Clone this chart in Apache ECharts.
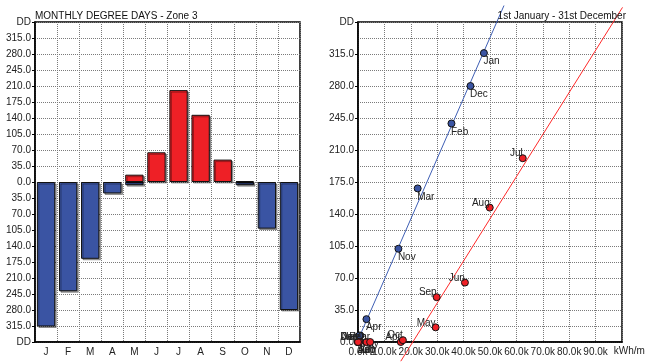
<!DOCTYPE html>
<html><head><meta charset="utf-8">
<script src="https://cdn.jsdelivr.net/npm/echarts@6/dist/echarts.min.js"></script>
<style>html,body{margin:0;padding:0;background:#fff}#c{width:645px;height:363px}</style>
</head><body><div id="c"></div>
<script>
// ---- data ----
const monthLetters = ['J','F','M','A','M','J','J','A','S','O','N','D'];
const monthNames = ['Jan','Feb','Mar','Apr','May','Jun','Jul','Aug','Sep','Oct','Nov','Dec'];
const heatingDD = [316, 239, 168, 25, 7, 0, 0, 0, 0, 7, 102, 280];
const coolingDD = [0, 0, 0, 0, 16, 65, 201, 147, 49, 2, 0, 0];
const heatingKWh = [47700, 35400, 22600, 3200, 900, 0, 0, 0, 0, 500, 15300, 42600];
const coolingKWh = [0, 3200, 4600, 16200, 29400, 40500, 62400, 49900, 29800, 17000, 500, 0];
const heatFitLine = [[270, 4], [55300, 368]];
const coolFitLine = [[16200, -21], [100200, 366]];
const leftTitle = 'MONTHLY DEGREE DAYS - Zone 3';
const rightTitle = '1st January - 31st December';
const xUnit = 'kWh/m²';
const yUnit = 'DD';

// ---- styles ----
const FONT = 'Liberation Sans';
const BLUE = '#3a54a3';
const RED = '#ee2026';
const gridLine = {show: true, lineStyle: {color: '#7a7a7a', width: 1, type: [1, 1]}};
const labelStyle = {fontFamily: FONT, fontSize: 10, color: '#222'};

const chart = echarts.init(document.getElementById('c'), null, {renderer: 'canvas'});

const heatBars = heatingDD.map(v => v === 0 ? '-' : -v);
const coolBars = coolingDD.map(v => v === 0 ? '-' : v);
const heatPts = heatingKWh.map((x, i) => ({value: [x, heatingDD[i]], name: monthNames[i]}));
const coolPts = coolingKWh.map((x, i) => ({value: [x, coolingDD[i]], name: monthNames[i]}));

chart.setOption({
  animation: false,
  backgroundColor: '#fff',
  title: [
    {text: leftTitle, left: 35, top: 11, padding: 0,
     textStyle: {fontFamily: FONT, fontSize: 10, fontWeight: 'normal', color: '#111'}},
    {text: rightTitle, right: 19, top: 11, padding: 0,
     textStyle: {fontFamily: FONT, fontSize: 10, fontWeight: 'normal', color: '#111'}}
  ],
  grid: [
    {left: 35, top: 22, width: 265, height: 320, show: true, borderColor: '#000', borderWidth: 1.5,
     backgroundColor: 'transparent', containLabel: false, outerBoundsMode: 'none'},
    {left: 358, top: 22, width: 264, height: 320, show: true, borderColor: '#000', borderWidth: 1.5,
     backgroundColor: 'transparent', containLabel: false, outerBoundsMode: 'none'}
  ],
  xAxis: [
    {type: 'category', gridIndex: 0, data: monthLetters,
     axisLine: {onZero: false, lineStyle: {color: '#000', width: 1.5}},
     axisTick: {show: false},
     axisLabel: Object.assign({margin: 5}, labelStyle),
     splitLine: gridLine},
    {type: 'value', gridIndex: 1, min: 0, max: 100000, interval: 10000,
     name: xUnit, nameLocation: 'end', nameGap: -32,
     nameTextStyle: Object.assign({padding: [4, 0, 0, 0], verticalAlign: 'top', align: 'left'}, labelStyle),
     axisLine: {onZero: false, lineStyle: {color: '#000', width: 1.5}},
     axisTick: {show: false},
     axisLabel: Object.assign({margin: 5, showMaxLabel: false, showMinLabel: true, hideOverlap: false,
       formatter: v => (v / 1000).toFixed(1) + 'k'}, labelStyle),
     splitLine: gridLine}
  ],
  yAxis: [
    {type: 'value', gridIndex: 0, min: -350, max: 350, interval: 35,
     axisLine: {show: true, lineStyle: {color: '#000', width: 1.5}},
     axisTick: {show: true, length: 3, lineStyle: {color: '#000'}},
     axisLabel: Object.assign({margin: 4,
       formatter: v => Math.abs(v) >= 350 ? yUnit : Math.abs(v).toFixed(1)}, labelStyle),
     splitLine: gridLine},
    {type: 'value', gridIndex: 1, min: 0, max: 350, interval: 35,
     axisLine: {show: true, lineStyle: {color: '#000', width: 1.5}},
     axisTick: {show: true, length: 3, lineStyle: {color: '#000'}},
     minorTick: {show: false, splitNumber: 2},
     minorSplitLine: {show: true, lineStyle: {color: '#7a7a7a', width: 1, type: [1, 1]}},
     axisLabel: Object.assign({margin: 4,
       formatter: v => v >= 350 ? yUnit : v.toFixed(1)}, labelStyle),
     splitLine: gridLine}
  ],
  series: [
    {type: 'bar', xAxisIndex: 0, yAxisIndex: 0, data: heatBars, barGap: '-100%', barCategoryGap: '17%',
     itemStyle: {color: BLUE, borderColor: '#111', borderWidth: 1,
       shadowColor: 'rgba(0,0,0,0.35)', shadowOffsetX: 1.5, shadowOffsetY: 1.5, shadowBlur: 0}},
    {type: 'bar', xAxisIndex: 0, yAxisIndex: 0, data: coolBars, barGap: '-100%', barCategoryGap: '17%',
     itemStyle: {color: RED, borderColor: '#111', borderWidth: 1,
       shadowColor: 'rgba(0,0,0,0.35)', shadowOffsetX: 1.5, shadowOffsetY: 1.5, shadowBlur: 0}},
    {type: 'line', xAxisIndex: 1, yAxisIndex: 1, data: heatFitLine, clip: false, symbol: 'none',
     lineStyle: {color: '#3f5fb5', width: 1}, z: 3},
    {type: 'line', xAxisIndex: 1, yAxisIndex: 1, data: coolFitLine, clip: false, symbol: 'none',
     lineStyle: {color: '#ff2a2a', width: 1}, z: 3},
    {type: 'scatter', xAxisIndex: 1, yAxisIndex: 1, data: heatPts, symbolSize: 7, z: 4,
     itemStyle: {color: BLUE, borderColor: '#111', borderWidth: 1, opacity: 1},
     label: {show: true, formatter: p => p.name, position: [3.5, 12.5], align: 'left', verticalAlign: 'middle',
       fontFamily: FONT, fontSize: 10, color: '#222'}},
    {type: 'scatter', xAxisIndex: 1, yAxisIndex: 1, data: coolPts, symbolSize: 7, z: 5,
     itemStyle: {color: RED, borderColor: '#111', borderWidth: 1, opacity: 1},
     label: {show: true, formatter: p => p.name, position: [4, -0.5], align: 'right', verticalAlign: 'middle',
       fontFamily: FONT, fontSize: 10, color: '#222'}}
  ]
});
</script>
</body></html>
